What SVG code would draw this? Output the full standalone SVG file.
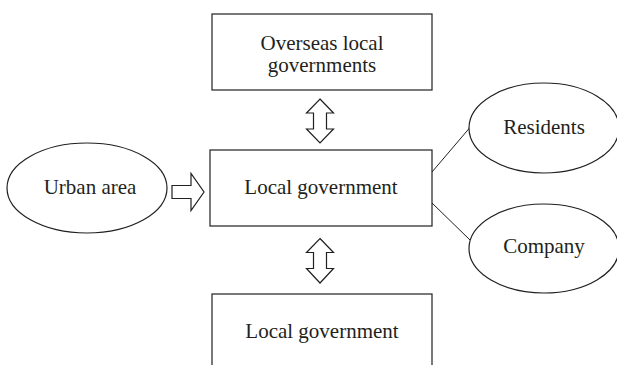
<svg xmlns="http://www.w3.org/2000/svg" width="617" height="365" viewBox="0 0 617 365">
<style>
.s{fill:#fff;stroke:#231f20;stroke-width:1.2}
.c{fill:none;stroke:#231f20;stroke-width:1}
text{font-family:'Liberation Serif','Times New Roman',serif;font-size:21px;fill:#231f20;text-anchor:middle}
</style>
<rect width="617" height="365" fill="#fff"/>
<g id="connectors">
<line class="c" x1="432" y1="172" x2="469.5" y2="128"/>
<line class="c" x1="432" y1="203" x2="470" y2="240"/>
<path id="arrow-top" class="s" d="M320,99 L333.5,113 L326.5,113 L326.5,129 L333.5,129 L320,143 L306.5,129 L313.5,129 L313.5,113 L306.5,113 Z"/>
<path id="arrow-bottom" class="s" d="M320,238.5 L333.5,252.5 L326.5,252.5 L326.5,268.5 L333.5,268.5 L320,283 L306.5,268.5 L313.5,268.5 L313.5,252.5 L306.5,252.5 Z"/>
<path id="arrow-left" class="s" d="M172,185.5 L191,185.5 L191,173.5 L204,192 L191,210.5 L191,198.5 L172,198.5 Z"/>
</g>
<g id="overseas">
<rect class="s" x="212" y="14" width="220" height="76"/>
<text x="322" y="50">Overseas local</text>
<text x="322" y="72">governments</text>
</g>
<g id="local-main">
<rect class="s" x="210" y="150" width="222" height="76"/>
<text x="321" y="194">Local government</text>
</g>
<g id="local-bottom">
<rect class="s" x="212" y="294" width="220" height="80"/>
<text x="322" y="338">Local government</text>
</g>
<g id="urban">
<ellipse class="s" cx="87" cy="188" rx="80" ry="45"/>
<text x="90" y="194">Urban area</text>
</g>
<g id="residents">
<ellipse class="s" cx="544" cy="128" rx="75" ry="45"/>
<text x="544" y="134">Residents</text>
</g>
<g id="company">
<ellipse class="s" cx="544" cy="248.5" rx="75" ry="44.5"/>
<text x="544" y="253">Company</text>
</g>
</svg>
